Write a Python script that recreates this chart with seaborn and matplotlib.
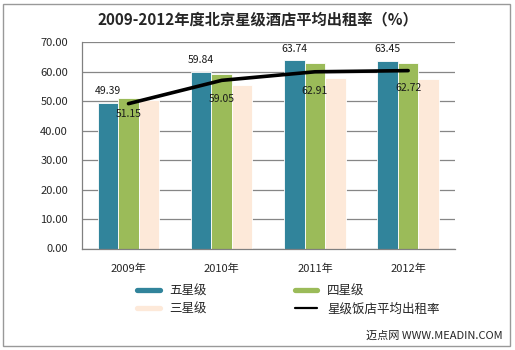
import numpy as np
import pandas as pd
import matplotlib
matplotlib.use("Agg")
import matplotlib.pyplot as plt
from matplotlib.lines import Line2D
from matplotlib.patches import Rectangle
import seaborn as sns

years = ["2009年", "2010年", "2011年", "2012年"]
series_names = ["五星级", "四星级", "三星级"]
five_star = [49.39, 59.84, 63.74, 63.45]
four_star = [51.15, 59.05, 62.91, 62.72]
three_star = [50.5, 55.3, 57.8, 57.4]
avg_rate = [49.1, 57.0, 59.9, 60.3]
line_name = "星级饭店平均出租率"
title = "2009-2012年度北京星级酒店平均出租率（%）"
yticks = [0, 10, 20, 30, 40, 50, 60, 70]
colors = ["#31849B", "#9BBB59", "#FDE9D9"]

sns.set_style("white")
plt.rcParams["font.family"] = ["Noto Sans CJK SC", "DejaVu Sans"]

df = pd.DataFrame({
    "year": years * 3,
    "value": five_star + four_star + three_star,
    "type": [series_names[0]] * 4 + [series_names[1]] * 4 + [series_names[2]] * 4,
})

fig = plt.figure(figsize=(5.15, 3.5), dpi=100)
ax = fig.add_axes([0.159, 0.290, 0.724, 0.590])

sns.barplot(data=df, x="year", y="value", hue="type", palette=colors,
            width=0.66, ax=ax, legend=False, edgecolor="white", linewidth=0.6,
            saturation=1)
sns.lineplot(x=np.arange(len(years)), y=avg_rate, color="black", linewidth=2.6,
             ax=ax, legend=False)

ax.set_ylim(0, 70)
ax.set_xlim(-0.5, len(years) - 0.5)
ax.set_yticks(yticks)
ax.set_yticklabels([f"{v:.2f}" for v in yticks], fontsize=8)
ax.set_xticks(np.arange(len(years)))
ax.set_xticklabels(years, fontsize=8)
ax.set_xticks(np.arange(len(years) + 1) - 0.5, minor=True)
ax.tick_params(axis="x", which="major", length=0, pad=11)
ax.tick_params(axis="x", which="minor", length=4, color="#808080")
ax.tick_params(axis="y", length=4, color="#808080", pad=6)
ax.set_xlabel("")
ax.set_ylabel("")
ax.yaxis.grid(True, color="#868686", linewidth=0.9)
ax.set_axisbelow(True)
for s in ["top", "right"]:
    ax.spines[s].set_visible(False)
for s in ["left", "bottom"]:
    ax.spines[s].set_color("#808080")
    ax.spines[s].set_linewidth(0.9)

# data labels
bars5 = ax.containers[0]
bars4 = ax.containers[1]
for rect, v in zip(bars5, five_star):
    ax.annotate(f"{v:.2f}", (rect.get_x() + rect.get_width() / 2, rect.get_height()),
                xytext=(0, 5), textcoords="offset points", ha="center", va="bottom",
                fontsize=7.5, color="#1a1a1a")
offsets4 = [-12, -18, -20, -18]
for rect, v, off in zip(bars4, four_star, offsets4):
    ax.annotate(f"{v:.2f}", (rect.get_x() + rect.get_width() / 2, rect.get_height()),
                xytext=(0, off), textcoords="offset points", ha="center", va="center",
                fontsize=7.5, color="#1a1a1a")

fig.text(0.5, 0.945, title, ha="center", va="center", fontsize=11, fontweight="bold")

handles = [
    Line2D([], [], color=colors[0], lw=3.8),
    Line2D([], [], color=colors[2], lw=3.8),
    Line2D([], [], color=colors[1], lw=3.8),
    Line2D([], [], color="black", lw=1.6),
]
labels = [series_names[0], series_names[2], series_names[1], line_name]
fig.legend(handles, labels, ncol=2, loc="center", bbox_to_anchor=(0.56, 0.143),
           frameon=False, fontsize=9, handlelength=1.8, columnspacing=7.0,
           labelspacing=0.4, handletextpad=0.8)

fig.text(0.975, 0.04, "迈点网 WWW.MEADIN.COM", ha="right", va="center",
         fontsize=8, family=["Noto Sans CJK SC", "DejaVu Sans"])

fig.patches.append(Rectangle((0.006, 0.012), 0.985, 0.976, transform=fig.transFigure,
                             fill=False, edgecolor="#999999", linewidth=1.0))

fig.savefig("out.png", dpi=100, facecolor="white")
